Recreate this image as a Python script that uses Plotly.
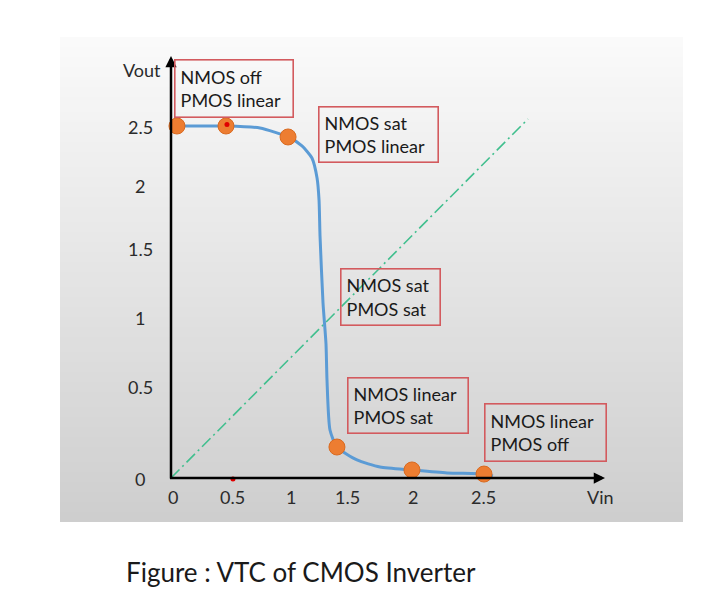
import plotly.graph_objects as go

# ---- data ----
curve_vin = [0.0, 0.048, 0.25, 0.442, 0.715, 0.941, 1.053, 1.133, 1.174, 1.190, 1.198, 1.222,
             1.246, 1.254, 1.278, 1.334, 1.495, 1.680, 1.937, 2.219, 2.516, 2.588]
curve_vout = [2.5, 2.5, 2.5, 2.5, 2.486, 2.422, 2.358, 2.273, 2.131, 1.974, 1.719, 1.243,
              0.952, 0.696, 0.341, 0.220, 0.128, 0.078, 0.057, 0.036, 0.028, 0.014]

dot_vin = [0.048, 0.442, 0.941, 1.334, 1.937, 2.516]
dot_vout = [2.5, 2.5, 2.422, 0.220, 0.057, 0.028]

red_vin = [0.45, 0.498]
red_vout = [2.51, -0.007]

diag_vin = [0.0, 2.87]
diag_vout = [0.0, 2.55]

x_tick_text = ["0", "0.5", "1", "1.5", "2", "2.5"]
x_tick_pos = [0.016, 0.498, 0.965, 1.415, 1.945, 2.508]
y_tick_text = ["0", "0.5", "1", "1.5", "2", "2.5"]
y_tick_pos = [-0.007, 0.646, 1.136, 1.627, 2.074, 2.493]

region_text = ["NMOS off<br>PMOS linear", "NMOS sat<br>PMOS linear", "NMOS sat<br>PMOS sat",
               "NMOS linear<br>PMOS sat", "NMOS linear<br>PMOS off"]
region_x = [0.024, 1.182, 1.359, 1.415, 2.516]
region_y = [2.976, 2.642, 1.491, 0.717, 0.533]
region_w = [121, 122, 102, 123, 124]
region_h = [58, 56, 57, 56, 58]

caption = "Figure : VTC of CMOS Inverter"

# ---- pixel geometry ----
W, H = 720, 605
X0PX, XSC = 171, 124.4      # pixel of Vin=0, px per unit
Y0PX, YSC = 478, 140.8      # pixel of Vout=0, px per unit
xr = [-X0PX / XSC, (W - X0PX) / XSC]
yr = [-(H - Y0PX) / YSC, Y0PX / YSC]

FONT = "Lato, 'Open Sans', sans-serif"

fig = go.Figure()

# gradient panel (decoration)
shapes = []
top, bot, left, right = 37, 522, 60, 683
n = 97
for i in range(n):
    t = i / (n - 1)
    c = int(round(250 - (250 - 206) * t))
    y1 = top + (bot - top) * i / n
    y2 = top + (bot - top) * (i + 1) / n + 0.6
    shapes.append(dict(type="rect", xref="paper", yref="paper",
                       x0=left / W, x1=right / W, y0=1 - min(y2, bot) / H, y1=1 - y1 / H,
                       fillcolor=f"rgb({c},{c},{c})", line=dict(width=0), layer="below"))

fig.add_trace(go.Scatter(x=diag_vin, y=diag_vout, mode="lines",
                         line=dict(color="#40bf8e", width=1.6, dash="12px,4px,2px,4px"),
                         hoverinfo="skip"))
fig.add_trace(go.Scatter(x=curve_vin, y=curve_vout, mode="lines",
                         line=dict(color="#5b9bd5", width=3, shape="spline", smoothing=0.6),
                         hoverinfo="skip"))
fig.add_trace(go.Scatter(x=dot_vin, y=dot_vout, mode="markers",
                         marker=dict(color="#ed7d31", size=16, line=dict(color="#d96a20", width=1)),
                         hoverinfo="skip"))
fig.add_trace(go.Scatter(x=red_vin, y=red_vout, mode="markers",
                         marker=dict(color="#e00000", size=5), hoverinfo="skip"))

ann = []
# axes with arrows
ann.append(dict(x=(605 - X0PX) / XSC, y=0, ax=-0.02, ay=0, xref="x", yref="y", axref="x", ayref="y",
                text="", showarrow=True, arrowhead=2, arrowsize=0.9, arrowwidth=2.5, arrowcolor="black"))
ann.append(dict(x=0, y=(Y0PX - 56) / YSC, ax=0, ay=-0.015, xref="x", yref="y", axref="x", ayref="y",
                text="", showarrow=True, arrowhead=2, arrowsize=0.9, arrowwidth=2.5, arrowcolor="black"))

TICKC = "#2b2b2b"
for t, p in zip(x_tick_text, x_tick_pos):
    ann.append(dict(x=p, y=(Y0PX - 497) / YSC, text=t, showarrow=False, xanchor="center", yanchor="middle",
                    font=dict(family=FONT, size=18, color=TICKC)))
for t, p in zip(y_tick_text, y_tick_pos):
    ann.append(dict(x=(140 - X0PX) / XSC, y=p, text=t, showarrow=False, xanchor="center", yanchor="middle",
                    font=dict(family=FONT, size=18, color=TICKC)))

ann.append(dict(x=(163 - X0PX) / XSC, y=(Y0PX - 70) / YSC, text="Vout", showarrow=False,
                xanchor="right", yanchor="middle", font=dict(family=FONT, size=18, color=TICKC)))
ann.append(dict(x=(600 - X0PX) / XSC, y=(Y0PX - 497) / YSC, text="Vin", showarrow=False,
                xanchor="center", yanchor="middle", font=dict(family=FONT, size=18, color=TICKC)))

for t, x, y, w, h in zip(region_text, region_x, region_y, region_w, region_h):
    ann.append(dict(x=x, y=y, text=t, showarrow=False, xanchor="left", yanchor="top",
                    align="left", valign="middle", width=w - 14, height=h - 12, borderpad=5,
                    bordercolor="#d35a5e", borderwidth=1.6, bgcolor="rgba(0,0,0,0)",
                    font=dict(family=FONT, size=18, color="#1a1a1a")))

ann.append(dict(x=124 / W, y=1 - 572 / H, xref="paper", yref="paper", text=caption, showarrow=False,
                xanchor="left", yanchor="middle", font=dict(family=FONT, size=26, color="#1a1a1a")))

fig.update_layout(
    width=W, height=H, margin=dict(l=0, r=0, t=0, b=0),
    paper_bgcolor="white", plot_bgcolor="white", showlegend=False,
    xaxis=dict(range=xr, visible=False, fixedrange=True),
    yaxis=dict(range=yr, visible=False, fixedrange=True),
    shapes=shapes, annotations=ann,
)

fig.write_html("out.html", config={"displayModeBar": False},
               post_script="document.body.style.margin='0px';")
